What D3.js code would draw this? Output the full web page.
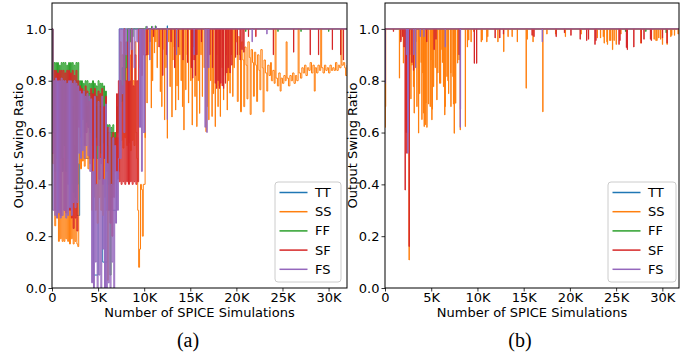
<!DOCTYPE html>
<html>
<head>
<meta charset="utf-8">
<script src="https://cdn.jsdelivr.net/npm/d3@7"></script>
<style>
  body { margin: 0; background: #fff; }
  svg { display: block; font-family: "DejaVu Sans", sans-serif; }
</style>
</head>
<body>
<svg id="chart" width="693" height="358"></svg>
<script>
// x values are in thousands of SPICE simulations
const seriesNames = ["TT", "SS", "FF", "SF", "FS"];
const seriesColors = ["#1f77b4", "#ff7f0e", "#2ca02c", "#d62728", "#9467bd"];
const xTickValues = [0, 5, 10, 15, 20, 25, 30];
const yTickValues = [0, 0.2, 0.4, 0.6, 0.8, 1.0];

// ---- panel (a) ----
// first 10K, one reading every 100 simulations
const ssA = [
  0.52,0.48,0.80,0.24,0.60,0.27,0.75,0.18,0.55,0.19,
  0.78,0.18,0.50,0.18,0.70,0.19,0.60,0.18,0.75,0.17,
  0.50,0.19,0.70,0.17,0.55,0.18,0.65,0.17,0.16,0.48,
  0.70,0.46,0.72,0.49,0.68,0.47,0.74,0.50,0.70,0.46,
  0.72,0.48,0.70,0.30,0.72,0.35,0.65,0.30,0.70,0.25,
  0.72,0.35,0.68,0.30,0.70,0.28,0.66,0.35,0.70,0.30,
  0.03,0.55,0.30,0.58,0.35,0.60,0.40,0.57,0.60,0.55,
  0.42,0.58,0.45,0.55,0.95,0.57,0.90,0.54,1.00,0.58,
  0.85,0.55,1.00,0.56,0.90,0.53,1.00,0.57,0.80,0.55,
  0.95,0.60,0.50,0.30,0.08,0.15,0.40,0.38,0.20,0.40
];
const ffA = [
  1.00,0.60,0.87,0.45,0.87,0.50,0.87,0.45,0.86,0.50,
  0.87,0.45,0.87,0.55,0.87,0.45,0.86,0.50,0.87,0.45,
  0.87,0.40,0.87,0.37,0.86,0.35,0.87,0.40,0.87,0.65,
  0.80,0.62,0.80,0.66,0.79,0.60,0.80,0.64,0.80,0.62,
  0.79,0.60,0.79,0.55,0.80,0.52,0.79,0.58,0.78,0.50,
  0.80,0.55,0.79,0.52,0.79,0.56,0.78,0.50,0.76,0.55,
  0.63,0.40,0.63,0.05,0.62,0.35,0.63,0.45,0.60,0.55,
  0.70,0.60,0.75,0.70,0.80,0.72,0.85,0.75,0.90,0.80,
  0.95,0.85,1.00,0.90,1.00,0.95,1.00,0.97,1.00,1.00,
  1.00,1.00,1.00,1.00,1.00,1.00,1.00,1.00,1.00,1.00
];
const sfA = [
  1.00,0.52,0.84,0.30,0.84,0.50,0.83,0.30,0.84,0.28,
  0.84,0.45,0.84,0.30,0.83,0.29,0.84,0.40,0.84,0.30,
  0.83,0.27,0.84,0.23,0.82,0.27,0.84,0.22,0.80,0.62,
  0.78,0.58,0.77,0.65,0.76,0.55,0.78,0.60,0.76,0.62,
  0.72,0.50,0.77,0.45,0.75,0.50,0.77,0.40,0.74,0.55,
  0.76,0.42,0.75,0.48,0.77,0.40,0.70,0.50,0.74,0.45,
  0.62,0.30,0.60,0.25,0.58,0.20,0.60,0.35,0.58,0.45,
  0.75,0.42,0.80,0.41,0.80,0.40,0.78,0.41,1.00,0.40,
  0.80,0.41,0.95,0.40,0.80,0.41,1.00,0.40,0.78,0.41,
  0.90,0.40,0.80,0.41,1.00,0.85,1.00,0.82,1.00,0.90
];
const fsA = [
  1.00,0.30,0.80,0.28,0.81,0.27,0.80,0.29,0.80,0.27,
  0.81,0.28,0.80,0.30,0.80,0.27,0.79,0.28,0.80,0.31,
  0.80,0.28,0.79,0.33,0.80,0.31,0.79,0.33,0.78,0.52,
  0.76,0.50,0.75,0.53,0.76,0.50,0.74,0.55,0.75,0.51,
  0.74,0.45,0.73,0.02,0.45,0.00,0.74,0.10,0.40,0.00,
  0.72,0.05,0.50,0.00,0.74,0.15,0.42,0.00,0.71,0.00,
  0.48,0.02,0.62,0.00,0.40,0.10,0.58,0.00,0.55,0.25,
  0.45,0.30,0.50,1.00,0.50,1.00,0.75,1.00,0.60,1.00,
  0.90,1.00,1.00,0.80,1.00,1.00,0.92,1.00,1.00,0.85,
  1.00,1.00,0.95,1.00,1.00,0.62,1.00,0.45,1.00,0.60
];
// TT is mostly hidden under the other corners
const ttA = [[0,1.0],[0.1,0.8],[0.5,0.3],[1,0.8],[1.5,0.3],[2,0.8],[2.7,0.28],[3,0.75],
  [3.5,0.5],[4,0.75],[4.5,0.05],[5,0.7],[5.5,0.1],[6,0.6],[6.5,0.3],[7,0.5],[7.3,1.0]];

// after 10K: dips (or bumps) away from 1.0, [K, value]
const ttASpikes = [[12.5,1.012]];
const ssASpikes = [[10.1,0.58],[10.3,0.714],[10.5,0.9],[10.76,0.695],[10.9,0.8],[11.1,0.907],[11.25,0.95],
  [11.4,0.85],[11.74,0.758],[11.9,0.7],[12.0,0.92],[12.2,0.649],[12.35,0.85],[12.5,0.578],[12.65,0.95],
  [12.8,0.777],[13.0,0.66],[13.1,0.88],[13.25,0.93],[13.4,0.687],[13.55,0.78],[13.7,0.726],[13.85,0.9],
  [14.0,0.8],[14.15,0.7],[14.3,0.61],[14.5,0.765],[14.65,0.9],[14.8,0.714],[15.05,0.8],[15.2,0.629],
  [15.35,0.93],[15.5,0.739],[15.7,0.623],[15.85,0.8],[16.0,0.674],[16.15,0.9],[16.3,0.739],[16.5,0.85],
  [16.7,0.603],[16.85,0.7],[17.0,0.649],[17.2,0.8],[17.35,0.662],[17.5,0.75],[17.7,0.623],[17.85,0.9],
  [18.0,0.70],[18.1,0.78],[18.25,0.662],[18.45,0.85],[18.6,0.726],[18.8,0.82],[18.95,0.9],[19.0,0.687],
  [19.15,0.8],[19.3,0.752],[19.45,0.9],[19.6,0.739],[19.75,0.85]];
// SS no longer returns to 1.0 after ~20K
const ssATail = [[19.9,1.0],[20.0,0.95],[20.1,0.72],[20.2,0.97],[20.35,0.9],[20.45,0.68],[20.55,0.95],
  [20.7,0.88],[20.8,0.7],[20.9,0.93],[21.05,0.86],[21.15,0.73],[21.25,0.95],[21.4,0.89],[21.5,0.67],
  [21.6,0.92],[21.75,0.87],[21.85,0.74],[21.95,0.91],[22.1,0.86],[22.2,0.72],[22.3,0.9],[22.45,0.84],
  [22.55,0.765],[22.65,0.92],[22.8,0.85],[22.9,0.68],[23.0,0.88],[23.15,0.83],[23.3,0.76],[23.4,0.86],
  [23.55,0.82],[23.7,0.87],[23.8,0.8],[23.95,0.84],[24.1,0.79],[24.2,1.0],[24.3,0.81],[24.45,0.78],
  [24.6,0.83],[24.75,0.76],[24.85,0.81],[25.0,0.79],[25.15,0.82],[25.3,0.8],[25.4,0.95],[25.5,0.81],
  [25.65,0.78],[25.8,0.82],[25.95,0.8],[26.1,0.83],[26.25,0.79],[26.4,0.82],[26.55,0.8],[26.7,1.0],
  [26.8,0.83],[26.95,0.81],[27.1,0.85],[27.25,0.83],[27.4,0.86],[27.55,0.82],[27.7,0.85],[27.85,0.84],
  [28.0,0.87],[28.15,0.83],[28.3,0.86],[28.45,0.76],[28.55,0.85],[28.7,0.83],[28.85,0.86],[29.0,0.84],
  [29.15,1.0],[29.25,0.85],[29.4,0.83],[29.55,0.86],[29.7,0.84],[29.85,0.85],[30.0,0.83],[30.15,0.86],
  [30.3,0.84],[30.45,0.85],[30.6,0.84],[30.75,0.87],[30.9,0.84],[31.05,0.86],[31.2,0.85],[31.35,1.0],
  [31.45,0.86],[31.6,0.87],[31.75,0.85],[31.85,0.82],[32.0,0.86]];
const ffASpikes = [[10.2,1.01],[10.8,1.01],[11.2,1.012],[21,0.99],[24.5,0.99],[27,0.99],[30,0.99]];
const sfASpikes = [[10.3,0.9],[10.6,0.95],[11.0,0.97],[11.6,0.93],[12.0,0.82],[12.4,0.9],[12.9,0.95],
  [13.3,0.85],[13.7,0.93],[14.2,0.88],[14.7,0.87],[15.1,0.85],[15.25,0.81],[15.4,0.88],[15.55,0.82],
  [15.7,0.9],[16.2,0.95],[16.9,0.85],[17.1,0.9],[17.4,0.85],[17.7,0.79],[17.85,0.77],[18.0,0.8],
  [18.15,0.77],[18.3,0.79],[18.45,0.78],[18.6,0.77],[18.8,0.79],[18.95,0.83],[19.1,0.85],[19.3,0.83],
  [19.5,0.86],[19.9,0.89],[20.1,0.9],[20.4,0.88],[20.6,0.92],[20.8,0.91],[21.3,0.97],[22.1,0.97],
  [24.0,0.9],[26.2,0.91],[28.0,0.9],[28.9,0.9],[30.4,0.92],[31.3,0.9],[31.6,0.88]];
const fsASpikes = [[10.05,0.6],[10.3,1.01],[10.6,0.88],[10.9,1.01],[11.3,1.01],[12.5,0.65],[13.5,0.9],
  [15.4,0.9],[16.6,0.62],[16.8,0.6],[17.0,0.85],[21.7,0.95],[23.3,0.98]];

// ---- panel (b) ---- everything sits at 1.0 apart from these dips
const ttBSpikes = [[0,0.7]];
const ssBSpikes = [[0,0.62],[0.05,0.7],[1.55,0.81],[1.7,0.957],[1.98,0.868],[2.3,0.64],[2.42,0.92],
  [2.6,0.108],[2.79,0.73],[2.9,0.86],[3.07,0.777],[3.15,0.675],[3.25,0.88],[3.44,0.70],[3.62,0.598],
  [3.73,0.75],[3.9,0.87],[3.98,0.65],[4.09,0.83],[4.16,0.675],[4.23,0.623],[4.34,0.63],[4.41,0.714],
  [4.52,0.62],[4.7,0.71],[4.88,0.70],[4.95,0.88],[5.06,0.649],[5.1,0.69],[5.24,0.777],[5.42,0.85],
  [5.6,0.726],[5.7,0.83],[5.9,0.79],[6.0,0.79],[6.15,0.92],[6.2,0.87],[6.32,0.777],[6.45,0.668],
  [6.5,0.70],[6.69,0.816],[6.8,0.8],[6.87,0.75],[7.1,0.83],[7.12,0.70],[7.34,0.816],[7.4,0.71],
  [7.48,0.597],[7.63,0.713],[7.84,0.868],[8.0,0.88],[8.13,0.61],[8.68,0.623],[8.9,0.93],[9.04,0.957],
  [9.3,0.95],[9.58,0.99],[10.4,0.95],[10.5,0.957],[11.0,0.95],[11.1,0.97],[12.2,0.95],[12.83,0.912],
  [13.3,0.97],[13.74,0.97],[14.3,0.95],[15.26,0.771],[15.37,0.96],[16.0,0.95],[17.06,0.68],[17.5,0.98],
  [18.44,0.98],[19.5,0.97],[21.2,0.98],[22.95,0.965],[23.3,0.965],[23.6,0.97],[23.7,0.945],[24.0,0.95],
  [24.05,0.94],[24.3,0.955],[24.4,0.955],[24.6,0.92],[24.77,0.955],[25.0,0.94],[25.5,0.98],[27.66,0.945],
  [29.1,0.96],[29.3,0.955],[29.4,0.955],[29.6,0.965],[29.8,0.96],[30.0,0.94],[30.5,0.94],[30.9,0.97],
  [31.0,0.975],[31.3,0.975],[31.7,0.98]];
const ffBSpikes = [[0,0.8],[26,0.99],[28.2,0.99],[30.4,0.985]];
const sfBSpikes = [[0,0.8],[0.9,0.99],[1.7,0.95],[1.9,0.97],[2.05,0.93],[2.17,0.378],[2.28,0.6],[2.35,0.52],
  [2.6,0.16],[2.65,0.9],[2.9,0.87],[3.07,0.84],[3.3,0.95],[4.5,0.95],[5.3,0.92],[5.5,0.96],[8.0,0.9],
  [9.65,0.867],[9.9,0.867],[11.9,0.965],[12.4,0.965],[12.8,0.98],[15.9,0.975],[16.1,0.97],[18.5,0.97],
  [19.4,0.985],[20.1,0.975],[21.1,0.96],[21.8,0.955],[22.0,0.96],[22.7,0.94],[22.8,0.955],[25.3,0.94],
  [25.4,0.955],[26.1,0.928],[26.2,0.92],[26.9,0.93],[27.7,0.945],[28.0,0.96],[28.7,0.96],[28.8,0.955],
  [30.0,0.965],[30.5,0.945]];
const fsBSpikes = [[0,0.79],[2.3,0.9],[2.46,0.52],[2.5,0.6],[3.1,0.9],[3.3,0.85],[3.8,0.97],[4.2,0.97],
  [6.5,0.93],[8.13,0.62],[8.15,0.69],[17.0,0.95]];

// ---- building the point lists ----
const dense = vals => vals.map((v, i) => [i * 0.1, v]);
const spikes = (list, base) => list.slice().sort((a, b) => a[0] - b[0])
  .flatMap(([k, v]) => [[k, base], [k, v], [k + 0.03, base]]);

function panelA(xMax) {
  return [
    ttA.concat(spikes(ttASpikes, 1), [[xMax, 1]]),
    dense(ssA).concat(spikes(ssASpikes, 1), ssATail),
    dense(ffA).concat(spikes(ffASpikes, 1), [[xMax, 1]]),
    dense(sfA).concat(spikes(sfASpikes, 1), [[xMax, 1]]),
    dense(fsA).concat(spikes(fsASpikes, 1), [[xMax, 1]])
  ];
}
function panelB(xMax) {
  return [ttBSpikes, ssBSpikes, ffBSpikes, sfBSpikes, fsBSpikes]
    .map(s => spikes(s, 1).concat([[xMax, 1]]));
}

const svg = d3.select("#chart");
const plotTop = 3, plotBottom = 288;
const fs = 13;

const panels = [
  { left: 52, right: 347, xMax: 32, data: panelA, tag: "(a)", tagX: 188, ylabX: 18, legX: 275, legW: 66 },
  { left: 385, right: 679, xMax: 31.8, data: panelB, tag: "(b)", tagX: 520, ylabX: 352, legX: 608, legW: 68 }
];

panels.forEach((p, pi) => {
  const x = d3.scaleLinear().domain([0, p.xMax]).range([p.left, p.right]);
  const y = d3.scaleLinear().domain([0, 1.1]).range([plotBottom, plotTop]);
  const g = svg.append("g");

  const clipId = "clip" + pi;
  svg.append("clipPath").attr("id", clipId)
    .append("rect").attr("x", p.left).attr("y", plotTop)
    .attr("width", p.right - p.left).attr("height", plotBottom - plotTop);

  // step curve keeps the dense traces as vertical strokes
  const line = d3.line().x(d => x(d[0])).y(d => y(d[1])).curve(d3.curveStepAfter);
  const lines = p.data(p.xMax);
  g.append("g").attr("clip-path", `url(#${clipId})`)
    .selectAll("path").data(lines).join("path")
    .attr("d", line)
    .attr("fill", "none")
    .attr("stroke", (d, i) => seriesColors[i])
    .attr("stroke-width", 1);

  // axes
  const xAxis = g.append("g").attr("transform", `translate(0,${plotBottom})`)
    .call(d3.axisBottom(x).tickValues(xTickValues)
      .tickFormat(d => d === 0 ? "0" : d + "K").tickSize(3.5).tickPadding(1.5));
  const yAxis = g.append("g").attr("transform", `translate(${p.left},0)`)
    .call(d3.axisLeft(y).tickValues(yTickValues)
      .tickFormat(d3.format(".1f")).tickSize(3.5).tickPadding(2));
  [xAxis, yAxis].forEach(a => {
    a.select(".domain").remove();
    a.selectAll("text").attr("font-size", fs).attr("fill", "#000")
      .attr("font-family", "DejaVu Sans, sans-serif");
    a.selectAll("line").attr("stroke", "#000").attr("stroke-width", 0.8);
  });

  g.append("rect").attr("x", p.left).attr("y", plotTop)
    .attr("width", p.right - p.left).attr("height", plotBottom - plotTop)
    .attr("fill", "none").attr("stroke", "#000").attr("stroke-width", 1);

  g.append("text").attr("x", (p.left + p.right) / 2).attr("y", 317)
    .attr("text-anchor", "middle").attr("font-size", fs)
    .text("Number of SPICE Simulations");
  g.append("text")
    .attr("transform", `translate(${p.ylabX},${(plotTop + plotBottom) / 2}) rotate(-90)`)
    .attr("text-anchor", "middle").attr("dominant-baseline", "central")
    .attr("font-size", fs).text("Output Swing Ratio");
  g.append("text").attr("x", p.tagX).attr("y", 347)
    .attr("text-anchor", "middle").attr("font-size", 20)
    .attr("font-family", "Liberation Serif, Times New Roman, serif")
    .text(p.tag);

  // legend
  const leg = g.append("g").attr("transform", `translate(${p.legX},182)`);
  leg.append("rect").attr("width", p.legW).attr("height", 100).attr("rx", 3)
    .attr("fill", "#fff").attr("fill-opacity", 0.8)
    .attr("stroke", "#cccccc").attr("stroke-width", 1);
  seriesNames.forEach((name, i) => {
    const yy = 10.5 + i * 19.2;
    leg.append("line").attr("x1", 4.5).attr("x2", 32.5).attr("y1", yy).attr("y2", yy)
      .attr("stroke", seriesColors[i]).attr("stroke-width", 1.5);
    leg.append("text").attr("x", 40).attr("y", yy).attr("dominant-baseline", "central")
      .attr("font-size", fs).text(name);
  });
});
</script>
</body>
</html>
